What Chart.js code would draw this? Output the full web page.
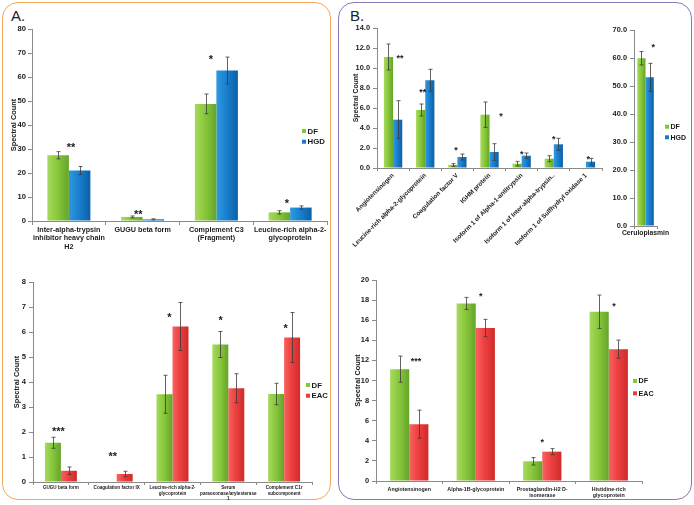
<!DOCTYPE html>
<html>
<head>
<meta charset="utf-8">
<script src="https://cdn.jsdelivr.net/npm/chart.js@4.4.1/dist/chart.umd.min.js"></script>
<style>
  html,body{margin:0;padding:0;background:#fff;}
  #wrap{position:relative;width:694px;height:505px;overflow:hidden;background:#fff;}
  .panel{position:absolute;box-sizing:border-box;border:1.6px solid;border-radius:16px;}
  .lab{position:absolute;font-family:'Liberation Sans',Arial,sans-serif;font-size:15px;line-height:15px;color:#222;}
  canvas{position:absolute;left:0;top:0;}
</style>
</head>
<body>
<div id="wrap">
  <div class="panel" style="left:2px;top:2px;width:329px;height:498px;border-color:#f3a85c;"></div>
  <div class="panel" style="left:338px;top:2px;width:354px;height:498px;border-color:#8b78b4;"></div>
  <div class="lab" style="left:11px;top:8px;">A.</div>
  <div class="lab" style="left:350px;top:8px;">B.</div>
  <canvas id="cAtop" width="694" height="505"></canvas>
  <canvas id="cAbot" width="694" height="505"></canvas>
  <canvas id="cBtop" width="694" height="505"></canvas>
  <canvas id="cBcer" width="694" height="505"></canvas>
  <canvas id="cBbot" width="694" height="505"></canvas>
</div>
<script>
// ---------------- DATA ----------------
// Panel A, top (DF vs HGD)
const aTopCats = [['Inter-alpha-trypsin','inhibitor heavy chain','H2'], 'GUGU beta form', ['Complement C3','(Fragment)'], ['Leucine-rich alpha-2-','glycoprotein']];
const aTopDF = [27.4, 1.7, 48.8, 3.6];
const aTopDFErr = [1.5, 0.4, 4.1, 0.7];
const aTopHGD = [21.0, 0.7, 62.7, 5.6];
const aTopHGDErr = [1.7, 0.2, 5.6, 0.7];
const aTopSig = ['**', '**', '*', '*'];
const aTopSigLevel = [32, 3.9, 68.5, 8.3];

// Panel A, bottom (DF vs EAC)
const aBotCats = ['GUGU beta form', 'Coagulation factor IX', ['Leucine-rich alpha-2-','glycoprotein'], ['Serum','paraoxonase/arylesterase','1'], ['Complement C1r','subcomponent']];
const aBotDF = [1.57, null, 3.51, 5.5, 3.52];
const aBotDFErr = [0.22, null, 0.76, 0.52, 0.43];
const aBotEAC = [0.45, 0.32, 6.22, 3.75, 5.78];
const aBotEACErr = [0.15, 0.11, 0.96, 0.58, 1.0];
const aBotSig = ['***', '**', '*', '*', '*'];
const aBotSigLevel = [2.12, 1.15, 6.7, 6.57, 6.24];

// Panel B, top left (DF vs HGD)
const bTopCats = ['Angiotensinogen', 'Leucine-rich alpha-2-glycoprotein', 'Coagulation factor V', 'IGHM protein', 'Isoform 1 of Alpha-1-antitrypsin', 'Isoform 1 of Inter-alpha-trypsin..', 'Isoform 1 of Sulfhydryl oxidase 1'];
const bTopDF = [11.1, 5.8, 0.3, 5.33, 0.43, 0.93, null];
const bTopDFErr = [1.3, 0.6, 0.13, 1.27, 0.23, 0.3, null];
const bTopHGD = [4.83, 8.77, 1.1, 1.6, 1.23, 2.37, 0.63];
const bTopHGDErr = [1.9, 1.1, 0.3, 0.83, 0.27, 0.6, 0.33];
const bTopSig = ['**', '**', '*', '*', '*', '*', '*'];
const bTopSigLevel = [11.27, 7.83, 2.0, 5.46, 1.66, 3.17, 1.1];

// Panel B, top right (Ceruloplasmin)
const bCerCats = ['Ceruloplasmin'];
const bCerDF = [59.9];
const bCerDFErr = [2.4];
const bCerHGD = [53.1];
const bCerHGDErr = [5.0];
const bCerSig = ['*'];
const bCerSigLevel = [64.6];

// Panel B, bottom (DF vs EAC)
const bBotCats = ['Angiotensinogen', 'Alpha-1B-glycoprotein', ['Prostaglandin-H2 D-','isomerase'], ['Histidine-rich','glycoprotein']];
const bBotDF = [11.13, 17.67, 1.96, 16.84];
const bBotDFErr = [1.3, 0.6, 0.37, 1.66];
const bBotEAC = [5.65, 15.22, 2.92, 13.12];
const bBotEACErr = [1.4, 0.86, 0.3, 0.9];
const bBotSig = ['***', '*', '*', '*'];
const bBotSigLevel = [12.19, 18.67, 4.12, 17.67];

// ---------------- STYLE ----------------
const FONT = "'Liberation Sans', Arial, sans-serif";
const AX = '#8a8a8a';
const TXT = '#1a1a1a';
const GREEN = {solid:'#86c43a', stops:[[0,'#a6da5e'],[0.45,'#8ac83c'],[1,'#64a52a']]};
const BLUE  = {solid:'#1679c9', stops:[[0,'#3099e0'],[0.45,'#1a80cf'],[1,'#0b5fa6']]};
const RED   = {solid:'#e83b3b', stops:[[0,'#f86262'],[0.45,'#ee4040'],[1,'#cf2a2a']]};

function barFill(col) {
  return (c) => {
    const ch = c.chart, xs = ch.scales && ch.scales.x;
    if (!xs || c.dataIndex == null || !xs.width) return col.solid;
    const n = ch.data.labels.length;
    const ds = ch.data.datasets;
    const pct = ds[c.datasetIndex].categoryPercentage;
    const catW = xs.width / n;
    const barW = catW * pct / ds.length;
    const cx = xs.getPixelForValue(c.dataIndex);
    const left = cx - catW * pct / 2 + c.datasetIndex * barW;
    if (!isFinite(left)) return col.solid;
    const g = ch.ctx.createLinearGradient(left, 0, left + barW, 0);
    col.stops.forEach(([o, k]) => g.addColorStop(o, k));
    return g;
  };
}

const errBars = {
  id: 'errBars',
  afterDatasetsDraw(chart, args, o) {
    const ctx = chart.ctx, ys = chart.scales.y;
    ctx.save();
    ctx.strokeStyle = o.color || '#3c3c3c';
    ctx.lineWidth = o.width || 0.8;
    chart.data.datasets.forEach((ds, i) => {
      const meta = chart.getDatasetMeta(i);
      meta.data.forEach((bar, j) => {
        const v = ds.data[j], e = ds.errors ? ds.errors[j] : null;
        if (v == null || e == null) return;
        const x = Math.round(bar.x) + 0.5;
        const y1 = ys.getPixelForValue(v + e), y2 = ys.getPixelForValue(Math.max(0, v - e));
        const cap = o.cap || 2;
        ctx.beginPath();
        ctx.moveTo(x, y1); ctx.lineTo(x, y2);
        ctx.moveTo(x - cap, y1); ctx.lineTo(x + cap, y1);
        ctx.moveTo(x - cap, y2); ctx.lineTo(x + cap, y2);
        ctx.stroke();
      });
    });
    ctx.restore();
  }
};

const sigMarks = {
  id: 'sigMarks',
  afterDatasetsDraw(chart, args, o) {
    if (!o.labels) return;
    const ctx = chart.ctx, xs = chart.scales.x, ys = chart.scales.y;
    const bw = chart.getDatasetMeta(1).data[0].width;
    ctx.save();
    ctx.fillStyle = TXT;
    ctx.font = 'bold ' + o.size + 'px ' + FONT;
    ctx.textAlign = 'center';
    ctx.textBaseline = 'alphabetic';
    o.labels.forEach((t, j) => {
      const x = xs.getPixelForValue(j) + (o.anchor[j] || 0) * bw;
      const y = ys.getPixelForValue(o.levels[j]) + 0.58 * o.size;
      ctx.fillText(t, x, y);
    });
    ctx.restore();
  }
};

const miniLegend = {
  id: 'miniLegend',
  afterDraw(chart, args, o) {
    if (!o.show) return;
    const ctx = chart.ctx;
    ctx.save();
    ctx.font = 'bold ' + o.size + 'px ' + FONT;
    ctx.textBaseline = 'middle';
    ctx.textAlign = 'left';
    chart.data.datasets.forEach((ds, i) => {
      const y = o.y + i * o.dy;
      ctx.fillStyle = ds.solidColor;
      ctx.fillRect(o.x, y - o.box / 2, o.box, o.box);
      ctx.fillStyle = TXT;
      ctx.fillText(ds.label, o.x + o.box + 1.5, y + 0.5);
    });
    ctx.restore();
  }
};

function makeChart(id, o) {
  const W = 694, H = 505;
  return new Chart(document.getElementById(id), {
    type: 'bar',
    data: {
      labels: o.labels,
      datasets: o.series.map(s => ({
        label: s.name, data: s.data, errors: s.err, solidColor: s.col.solid,
        backgroundColor: barFill(s.col), borderWidth: 0,
        categoryPercentage: o.cat, barPercentage: 1
      }))
    },
    options: {
      responsive: false, animation: false, events: [],
      layout: {padding: {left: o.area.l - o.yW, top: o.area.t, right: W - o.area.r, bottom: H - o.area.b - o.xH}},
      plugins: {
        legend: {display: false}, tooltip: {enabled: false},
        errBars: {cap: o.cap || 2, width: 0.8, color: '#3a3a3a'},
        sigMarks: {labels: o.sig, levels: o.sigLevel, anchor: o.sigAnchor, size: o.sigSize},
        miniLegend: o.legend || {show: false}
      },
      scales: {
        x: {
          offset: true,
          grid: {offset: true, drawOnChartArea: false, drawTicks: true, tickLength: o.xTick, color: AX, lineWidth: 1},
          border: {color: AX, width: 1},
          ticks: {autoSkip: false, maxRotation: o.rot, minRotation: o.rot, padding: o.xPad, color: TXT,
                  font: {family: FONT, size: o.xFont, weight: 'bold', lineHeight: 1.15}},
          afterFit: s => { s.height = o.xH; }
        },
        y: {
          min: 0, max: o.max,
          grid: {drawOnChartArea: false, drawTicks: true, tickLength: 4, color: AX, lineWidth: 1},
          border: {color: AX, width: 1},
          ticks: {stepSize: o.step, padding: o.yPad, color: TXT,
                  font: {family: FONT, size: o.yFont, weight: 'bold'},
                  callback: v => o.dec ? Number(v).toFixed(1) : v},
          title: {display: !!o.titlePad, text: 'Spectral Count', color: TXT,
                  font: {family: FONT, size: o.titleSize || 7.4, weight: 'bold', lineHeight: 1.2},
                  padding: {top: o.titlePad || 0, bottom: 0}},
          afterFit: s => { s.width = o.yW; }
        }
      }
    },
    plugins: [errBars, sigMarks, miniLegend]
  });
}

// Panel A top
makeChart('cAtop', {
  labels: aTopCats,
  series: [{name: 'DF', data: aTopDF, err: aTopDFErr, col: GREEN}, {name: 'HGD', data: aTopHGD, err: aTopHGDErr, col: BLUE}],
  area: {l: 32, t: 29, r: 327, b: 221}, yW: 32, xH: 40,
  cat: 0.583, max: 80, step: 10, yFont: 7.6, yPad: 2, xFont: 7.2, xTick: 4, xPad: 1, rot: 0,
  titlePad: 9.5, titleSize: 7.4,
  sig: aTopSig, sigLevel: aTopSigLevel, sigAnchor: [0.1, -0.2, -0.25, -0.15], sigSize: 11,
  legend: {show: true, x: 302, y: 131, dy: 10.7, box: 4, size: 7.8}
});

// Panel A bottom
makeChart('cAbot', {
  labels: aBotCats,
  series: [{name: 'DF', data: aBotDF, err: aBotDFErr, col: GREEN}, {name: 'EAC', data: aBotEAC, err: aBotEACErr, col: RED}],
  area: {l: 33, t: 282, r: 312, b: 482}, yW: 33, xH: 20,
  cat: 0.573, max: 8, step: 1, yFont: 7.6, yPad: 3, xFont: 4.6, xTick: 3, xPad: 0.5, rot: 0,
  titlePad: 12.5, titleSize: 7.4,
  sig: aBotSig, sigLevel: aBotSigLevel, sigAnchor: [-0.16, -0.25, -0.2, -0.48, 0.1], sigSize: 11,
  legend: {show: true, x: 306, y: 385, dy: 10.7, box: 4, size: 7.8}
});

// Panel B top left
makeChart('cBtop', {
  labels: bTopCats,
  series: [{name: 'DF', data: bTopDF, err: bTopDFErr, col: GREEN}, {name: 'HGD', data: bTopHGD, err: bTopHGDErr, col: BLUE}],
  area: {l: 377, t: 28, r: 602, b: 168}, yW: 32, xH: 94,
  cat: 0.57, max: 14, step: 2, dec: true, yFont: 7.4, yPad: 3, xFont: 6.3, xTick: 3, xPad: 1, rot: 45,
  titlePad: 7, titleSize: 6.8,
  sig: bTopSig, sigLevel: bTopSigLevel, sigAnchor: [0.75, -0.27, -0.15, 1.26, 0, 0, 0.24], sigSize: 9
});

// Panel B top right (Ceruloplasmin)
makeChart('cBcer', {
  labels: bCerCats,
  series: [{name: 'DF', data: bCerDF, err: bCerDFErr, col: GREEN}, {name: 'HGD', data: bCerHGD, err: bCerHGDErr, col: BLUE}],
  area: {l: 634, t: 30, r: 657, b: 226}, yW: 40, xH: 20,
  cat: 0.72, max: 70, step: 10, dec: true, yFont: 7.4, yPad: 3, xFont: 6.8, xTick: 3, xPad: 0.5, rot: 0,
  titlePad: 0,
  sig: bCerSig, sigLevel: bCerSigLevel, sigAnchor: [0.93], sigSize: 9,
  legend: {show: true, x: 665, y: 126.7, dy: 10.6, box: 4, size: 7}
});

// Panel B bottom
makeChart('cBbot', {
  labels: bBotCats,
  series: [{name: 'DF', data: bBotDF, err: bBotDFErr, col: GREEN}, {name: 'EAC', data: bBotEAC, err: bBotEACErr, col: RED}],
  area: {l: 376, t: 280, r: 642, b: 481}, yW: 31, xH: 20,
  cat: 0.576, max: 20, step: 2, yFont: 7.4, yPad: 3, xFont: 5.3, xTick: 3, xPad: 2.5, rot: 0,
  titlePad: 8.5, titleSize: 7.4,
  sig: bBotSig, sigLevel: bBotSigLevel, sigAnchor: [0.35, 0.26, 0, 0.27], sigSize: 9,
  legend: {show: true, x: 633, y: 381, dy: 12.3, box: 4, size: 7.2}
});
</script>
</body>
</html>
